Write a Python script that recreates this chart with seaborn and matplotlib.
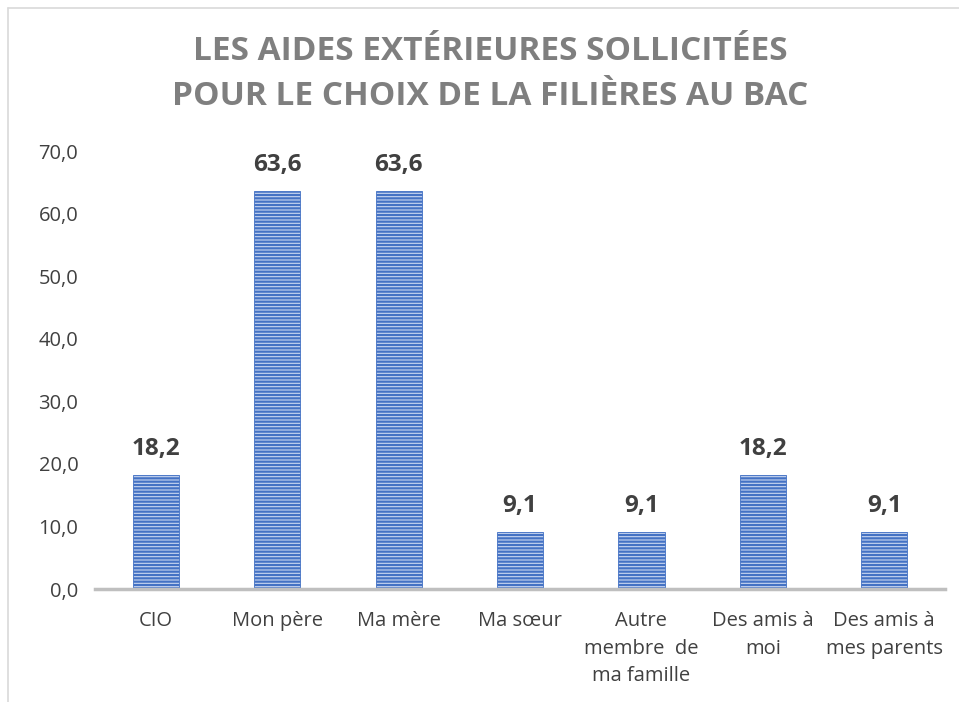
import matplotlib
matplotlib.use("Agg")
import matplotlib.pyplot as plt
import seaborn as sns
import pandas as pd
from matplotlib.lines import Line2D

categories = ["CIO", "Mon père", "Ma mère", "Ma sœur", "Autre membre de ma famille",
              "Des amis à moi", "Des amis à mes parents"]
tick_labels = ["CIO", "Mon père", "Ma mère", "Ma sœur", "Autre\nmembre  de\nma famille",
               "Des amis à\nmoi", "Des amis à\nmes parents"]
values = [18.2, 63.6, 63.6, 9.1, 9.1, 18.2, 9.1]
yticks = [0, 10, 20, 30, 40, 50, 60, 70]
title = "LES AIDES EXTÉRIEURES SOLLICITÉES\nPOUR LE CHOIX DE LA FILIÈRES AU BAC"

sns.set_style("white")
plt.rcParams["font.family"] = ["Open Sans", "DejaVu Sans"]
plt.rcParams["hatch.linewidth"] = 1.6

df = pd.DataFrame({"cat": categories, "val": values})

fig = plt.figure(figsize=(9.59, 7.02), dpi=100)
ax = fig.add_axes([95/959, 1-589/702, (945-95)/959, (589-151)/702])

sns.barplot(data=df, x="cat", y="val", ax=ax, width=0.38,
            color="#c5d5ef", saturation=1)
for p in ax.patches:
    p.set_facecolor("#c9d7f0")
    p.set_edgecolor("#4472C4")
    p.set_hatch("-----")
    p.set_linewidth(0.6)

ax.set_ylim(0, 70)
ax.set_xlim(-0.5, len(categories)-0.5)
ax.set_yticks(yticks)
ax.set_yticklabels([f"{v:.1f}".replace(".", ",") for v in yticks], fontsize=14.5, color="#404040")
ax.set_xticks(range(len(categories)))
ax.set_xticklabels(tick_labels, fontsize=14.5, color="#404040", linespacing=1.5)
ax.tick_params(axis="y", length=0, pad=12)
ax.tick_params(axis="x", length=0, pad=16)
ax.set_xlabel("")
ax.set_ylabel("")
for s in ["top", "right", "left"]:
    ax.spines[s].set_visible(False)
ax.spines["bottom"].set_color("#bfbfbf")
ax.spines["bottom"].set_linewidth(2.5)

for i, v in enumerate(values):
    ax.annotate(f"{v:.1f}".replace(".", ","), (i, v), xytext=(0, 10), textcoords="offset points",
                ha="center", va="bottom", fontsize=17.5, fontweight="bold", color="#404040")

fig.text(490/959, 1-74/702, title, ha="center", va="center", fontsize=24, fontweight="bold",
         color="#7f7f7f", linespacing=1.5)

fig.add_artist(Line2D([8/959, 8/959], [0, 1-8/702], transform=fig.transFigure, color="#d9d9d9", lw=1.2))
fig.add_artist(Line2D([8/959, 1], [1-8/702, 1-8/702], transform=fig.transFigure, color="#d9d9d9", lw=1.2))

fig.savefig("out.png", dpi=100)
